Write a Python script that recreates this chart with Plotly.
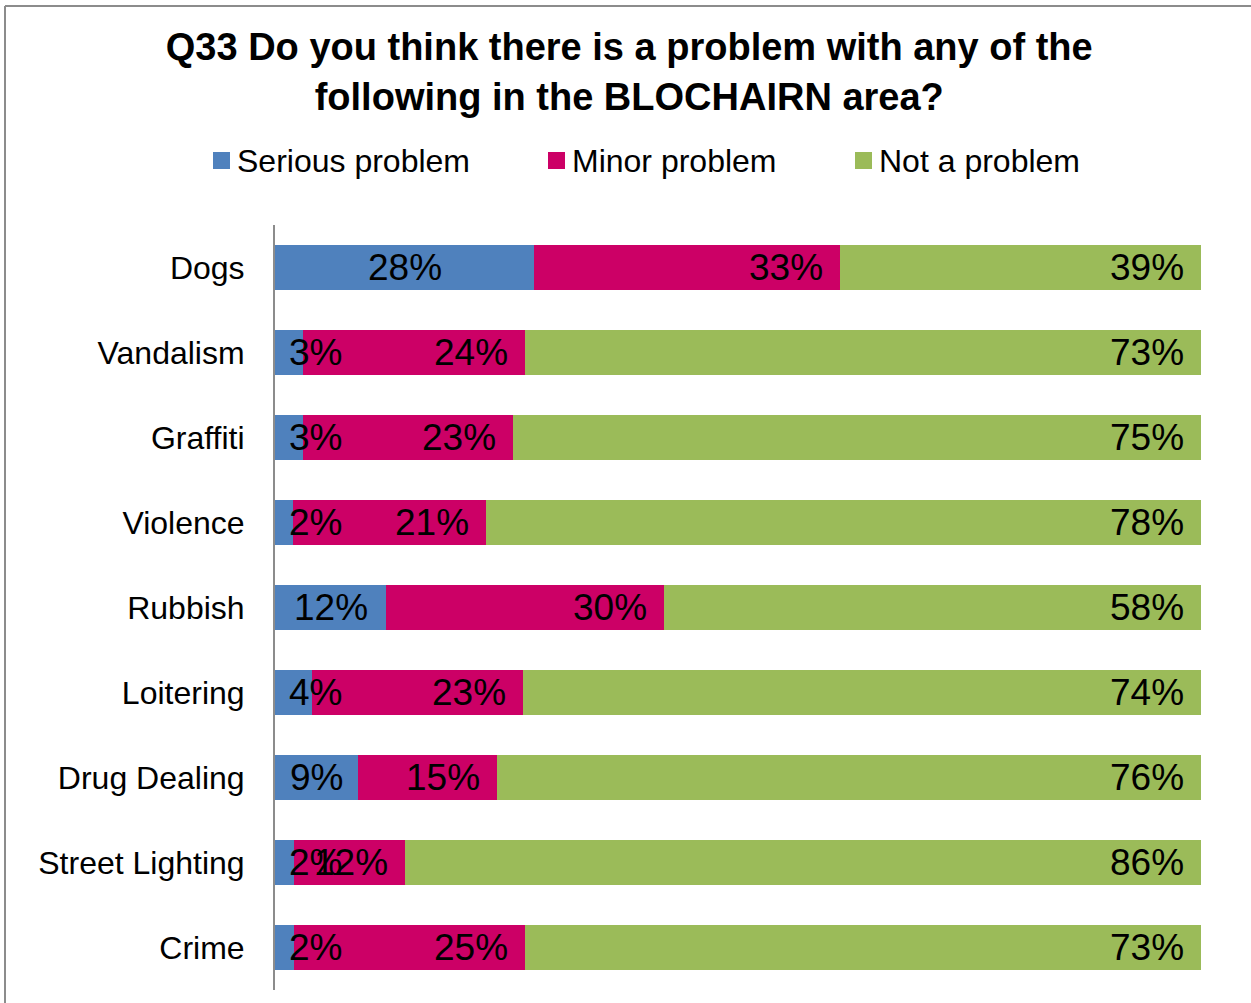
import plotly.graph_objects as go

# Survey responses (percent of respondents)
categories = ["Dogs", "Vandalism", "Graffiti", "Violence", "Rubbish",
              "Loitering", "Drug Dealing", "Street Lighting", "Crime"]
serious = [28, 3, 3, 2, 12, 4, 9, 2, 2]
minor = [33, 24, 23, 21, 30, 23, 15, 12, 25]
not_problem = [39, 73, 75, 78, 58, 74, 76, 86, 73]

series_names = ["Serious problem", "Minor problem", "Not a problem"]
colors = ["#4F81BD", "#CC0066", "#9BBB59"]

FONT = "Liberation Sans, Arial, sans-serif"

# Plot-area geometry in pixels (used for the frame and legend placement)
L, R, T, B = 275, 1201, 225, 990
W, H = R - L, B - T


def px_x(x):
    return (x - L) / W


def px_y(y):
    return (B - y) / H


fig = go.Figure()
for name, vals, col in zip(series_names, [serious, minor, not_problem], colors):
    fig.add_trace(go.Bar(
        y=categories, x=vals, name=name, orientation="h",
        marker=dict(color=col, line=dict(width=0)),
        hoverinfo="x+y+name", showlegend=False,
    ))

# Data labels: first series centred in its segment, the others at the inside end
annotations = []
for cat, s, m, n in zip(categories, serious, minor, not_problem):
    total = s + m + n
    ps, pm, pn = (100 * v / total for v in (s, m, n))
    annotations.append(dict(
        x=max(ps / 2, 4.4), y=cat, xref="x", yref="y", text=f"{s}%",
        showarrow=False, xanchor="center", yanchor="middle",
        font=dict(family=FONT, size=37, color="black")))
    annotations.append(dict(
        x=ps + pm, y=cat, xref="x", yref="y", text=f"{m}%",
        showarrow=False, xanchor="right", yanchor="middle", xshift=-15,
        font=dict(family=FONT, size=37, color="black")))
    annotations.append(dict(
        x=ps + pm + pn, y=cat, xref="x", yref="y", text=f"{n}%",
        showarrow=False, xanchor="right", yanchor="middle", xshift=-15,
        font=dict(family=FONT, size=37, color="black")))

# Legend: coloured squares with series names
shapes = []
legend_x = [213, 548, 855]
for name, col, lx in zip(series_names, colors, legend_x):
    shapes.append(dict(type="rect", xref="paper", yref="paper",
                       x0=px_x(lx), x1=px_x(lx + 17),
                       y0=px_y(169), y1=px_y(152),
                       fillcolor=col, line=dict(width=0)))
    annotations.append(dict(
        x=px_x(lx + 22), y=px_y(161), xref="paper", yref="paper",
        text=name, showarrow=False, xanchor="left", yanchor="middle",
        font=dict(family=FONT, size=32, color="black")))

# Chart frame (left and top edges)
shapes += [
    dict(type="line", xref="paper", yref="paper",
         x0=px_x(5), x1=px_x(1251), y0=px_y(6), y1=px_y(6),
         line=dict(color="#8C8C8C", width=2)),
    dict(type="line", xref="paper", yref="paper",
         x0=px_x(5), x1=px_x(5), y0=px_y(6), y1=px_y(1010),
         line=dict(color="#8C8C8C", width=2)),
]

fig.update_layout(
    width=1251, height=1003,
    margin=dict(l=L, r=1251 - R, t=T, b=1003 - B),
    paper_bgcolor="white", plot_bgcolor="white",
    barmode="stack", barnorm="percent", bargap=0.48,
    showlegend=False,
    title=dict(
        text="Q33 Do you think there is a problem with any of the<br>following in the BLOCHAIRN area?",
        x=0.503, xanchor="center", y=0.94, yanchor="middle",
        font=dict(family=FONT, size=38, color="black", weight="bold")),
    xaxis=dict(range=[0, 100], visible=False, fixedrange=True),
    yaxis=dict(
        categoryorder="array", categoryarray=categories, autorange="reversed",
        showline=True, linecolor="#8C8C8C", linewidth=2,
        ticks="", ticklabelstandoff=22,
        tickfont=dict(family=FONT, size=32, color="black"),
        showgrid=False, zeroline=False),
    annotations=annotations,
    shapes=shapes,
)

fig.write_html("out.html")
